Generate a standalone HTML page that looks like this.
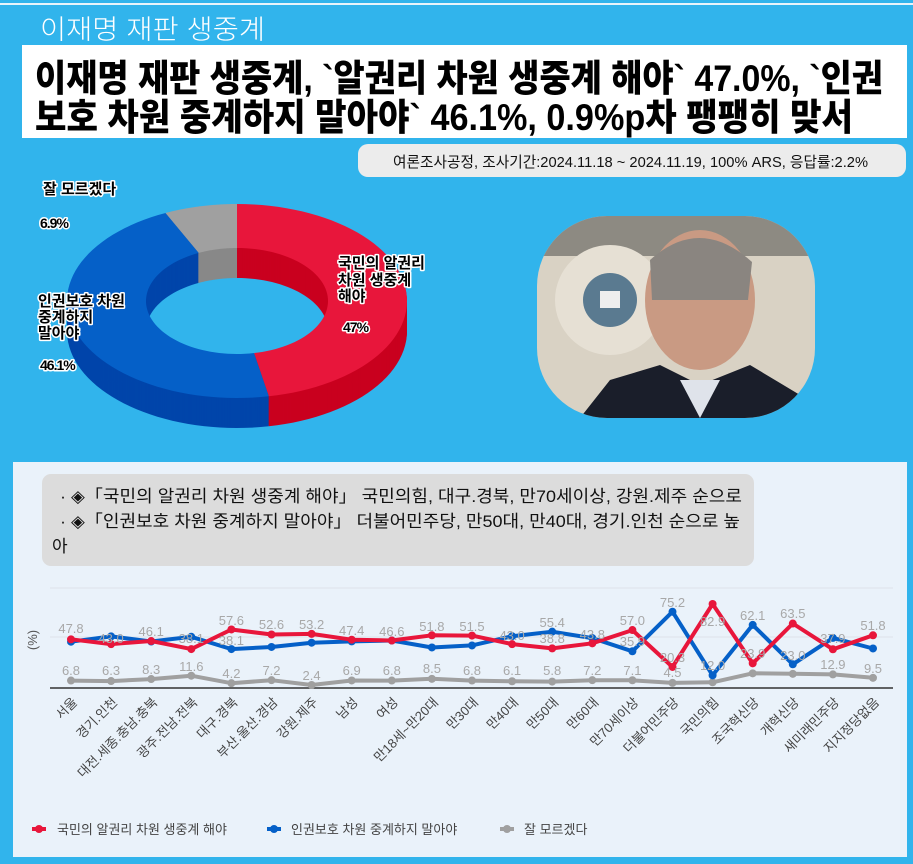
<!DOCTYPE html>
<html><head><meta charset="utf-8">
<style>
html,body{margin:0;padding:0;background:#31b4ec;}
svg{display:block;}
text{font-family:"Liberation Sans","Noto Sans CJK KR",sans-serif;}
</style></head>
<body>
<svg id="s" width="913" height="864" viewBox="0 0 913 864" xmlns="http://www.w3.org/2000/svg">
<rect x="0" y="0" width="913" height="864" fill="#31b4ec"/>
<rect x="0" y="3" width="913" height="2" fill="#e8f4fb"/>
<text x="40" y="39" font-size="27" fill="#fff" font-weight="300" textLength="225" lengthAdjust="spacingAndGlyphs">이재명 재판 생중계</text>
<rect x="22" y="45" width="885" height="93" fill="#fff"/>
<text x="35" y="91" font-size="37" font-weight="900" fill="#000" textLength="848" lengthAdjust="spacingAndGlyphs">이재명 재판 생중계, `알권리 차원 생중계 해야` 47.0%, `인권</text>
<text x="35" y="130" font-size="37" font-weight="900" fill="#000" textLength="818" lengthAdjust="spacingAndGlyphs">보호 차원 중계하지 말아야` 46.1%, 0.9%p차 팽팽히 맞서</text>
<rect x="358" y="144" width="548" height="33" rx="10" fill="#ececec"/>
<text x="393" y="167" font-size="15" fill="#111" textLength="475" lengthAdjust="spacingAndGlyphs">여론조사공정, 조사기간:2024.11.18 ~ 2024.11.19, 100% ARS, 응답률:2.2%</text>
<g id="donut"></g>
<g font-size="15" font-weight="bold" fill="#000" stroke="#fff" stroke-width="3" paint-order="stroke" stroke-linejoin="round">
<text x="43" y="194">잘 모르겠다</text>
<text x="40" y="228" font-size="14" letter-spacing="-1">6.9%</text>
<text x="338" y="268">국민의 알권리</text>
<text x="338" y="285">차원 생중계</text>
<text x="338" y="301">해야</text>
<text x="343" y="332" font-size="14" letter-spacing="-1">47%</text>
<text x="38" y="306">인권보호 차원</text>
<text x="38" y="322">중계하지</text>
<text x="38" y="338">말아야</text>
<text x="40" y="370" font-size="14" letter-spacing="-1">46.1%</text>
</g>
<defs><clipPath id="ph"><rect x="537" y="216" width="278" height="202" rx="70"/></clipPath></defs>
<g clip-path="url(#ph)">
<rect x="537" y="216" width="278" height="202" fill="#d9d2c4"/>
<rect x="537" y="216" width="278" height="40" fill="#8d8a82"/>
<circle cx="610" cy="300" r="55" fill="#e6e0d4"/>
<circle cx="610" cy="300" r="27" fill="#5a7a90"/>
<rect x="600" y="291" width="20" height="17" fill="#eee"/>
<ellipse cx="700" cy="300" rx="55" ry="70" fill="#c99a83"/>
<path d="M650 260 Q700 215 752 262 L748 300 L652 300 Z" fill="#8a8580"/>
<path d="M580 418 L610 380 L660 365 L700 385 L750 365 L800 395 L815 418 Z" fill="#1a1e2a"/>
<path d="M680 380 L700 418 L720 380 Z" fill="#dfe3ea"/>
</g>
<rect x="13" y="462" width="894" height="395" fill="#eaf2fa"/>
<rect x="42" y="474" width="712" height="92" rx="9" fill="#dcdcdc"/>
<g font-size="17" fill="#111">
<text x="60" y="502" textLength="682" lengthAdjust="spacingAndGlyphs">· ◈「국민의 알권리 차원 생중계 해야」 국민의힘, 대구.경북, 만70세이상, 강원.제주 순으로</text>
<text x="60" y="527" textLength="680" lengthAdjust="spacingAndGlyphs">· ◈「인권보호 차원 중계하지 말아야」 더불어민주당, 만50대, 만40대, 경기.인천 순으로 높</text>
<text x="52" y="552">아</text>
</g>
<line x1="50" y1="588" x2="893" y2="588" stroke="#dde3ea" stroke-width="1"/>
<line x1="50" y1="637" x2="893" y2="637" stroke="#dde3ea" stroke-width="1"/>
<line x1="50" y1="688" x2="893" y2="688" stroke="#333" stroke-width="1.5"/>
<text x="0" y="0" font-size="13" fill="#555" transform="translate(37,640) rotate(-90)" text-anchor="middle">(%)</text>
<g id="chart"></g>
<g font-size="13" fill="#444">
<line x1="32" y1="829" x2="46" y2="829" stroke="#e8163b" stroke-width="4"/><circle cx="39" cy="829" r="4" fill="#e8163b"/>
<text x="57" y="834">국민의 알권리 차원 생중계 해야</text>
<line x1="267" y1="829" x2="281" y2="829" stroke="#0560c8" stroke-width="4"/><circle cx="274" cy="829" r="4" fill="#0560c8"/>
<text x="291" y="834">인권보호 차원 중계하지 말아야</text>
<line x1="500" y1="829" x2="514" y2="829" stroke="#a0a0a0" stroke-width="4"/><circle cx="507" cy="829" r="4" fill="#a0a0a0"/>
<text x="524" y="834">잘 모르겠다</text>
</g>
</svg>
<script>
var NS="http://www.w3.org/2000/svg";
function el(p,t,a,txt){var e=document.createElementNS(NS,t);for(var k in a)e.setAttribute(k,a[k]);if(txt!=null)e.textContent=txt;p.appendChild(e);return e;}
// donut
var d=document.getElementById("donut");
var cx=237,cy=301,rx=170,ry=97,irx=91,iry=53,depth=30;
var slices=[[0,0.47,"#e8163b","#c9001f"],[0.47,0.931,"#0560c8","#0045aa"],[0.931,1,"#a0a0a0","#888"]];
function pt(a,r1,r2,oy){var t=a*2*Math.PI;return [cx+r1*Math.sin(t),cy+oy-r2*Math.cos(t)];}
function ring(a0,a1,oy){var s="";var n=60;for(var i=0;i<=n;i++){var a=a0+(a1-a0)*i/n;var p=pt(a,rx,ry,oy);s+=(i?"L":"M")+p[0].toFixed(2)+" "+p[1].toFixed(2);}
for(var i=n;i>=0;i--){var a=a0+(a1-a0)*i/n;var p=pt(a,irx,iry,oy);s+="L"+p[0].toFixed(2)+" "+p[1].toFixed(2);}return s+"Z";}
for(var o=depth;o>=1;o--){slices.forEach(function(s){el(d,"path",{d:ring(s[0],s[1],o),fill:s[3]});});}
slices.forEach(function(s){el(d,"path",{d:ring(s[0],s[1],0),fill:s[2]});});
// chart
var c=document.getElementById("chart");
var R=[47.8,43.0,46.1,38.1,57.6,52.6,53.2,47.4,46.6,51.8,51.5,43.0,38.8,43.8,57.0,20.3,82.9,23.9,63.5,37.9,51.8];
var B=[45.4,50.7,45.6,50.3,38.1,40.2,44.4,45.7,46.6,39.7,41.7,50.9,55.4,49.0,35.9,75.2,12.0,62.1,23.0,49.2,38.7];
var G=[6.8,6.3,8.3,11.6,4.2,7.2,2.4,6.9,6.8,8.5,6.8,6.1,5.8,7.2,7.1,4.5,5.1,14.0,13.5,12.9,9.5];
var N=["서울","경기.인천","대전.세종.충남.충북","광주.전남.전북","대구.경북","부산.울산.경남","강원.제주","남성","여성","만18세~만20대","만30대","만40대","만50대","만60대","만70세이상","더불어민주당","국민의힘","조국혁신당","개혁신당","새미래민주당","지지정당없음"];
function X(i){return 71+40.1*i;}function Y(v){return 687.4-1.006*v;}
[[G,"#a0a0a0"],[B,"#0560c8"],[R,"#e8163b"]].forEach(function(s){
 var p=s[0].map(function(v,i){return X(i).toFixed(1)+","+Y(v).toFixed(1);}).join(" ");
 el(c,"polyline",{points:p,fill:"none",stroke:s[1],"stroke-width":4,"stroke-linejoin":"round"});
 s[0].forEach(function(v,i){el(c,"circle",{cx:X(i),cy:Y(v),r:4,fill:s[1]});});
});
var L=[[0,"47.8",628],[0,"6.8",670],[1,"43.0",638],[1,"6.3",670],[2,"46.1",631],[2,"8.3",669],[3,"38.1",638],[3,"11.6",666],
[4,"57.6",620],[4,"38.1",640],[4,"4.2",673],[5,"52.6",624],[5,"7.2",670],[6,"53.2",624],[6,"2.4",675],[7,"47.4",630],[7,"6.9",670],
[8,"46.6",631],[8,"6.8",670],[9,"51.8",626],[9,"8.5",668],[10,"51.5",626],[10,"6.8",670],[11,"43.0",635],[11,"6.1",670],
[12,"55.4",622],[12,"38.8",638],[12,"5.8",670],[13,"43.8",634],[13,"7.2",670],[14,"57.0",620],[14,"35.9",641],[14,"7.1",670],
[15,"75.2",602],[15,"20.3",657],[15,"4.5",672],[16,"82.9",621],[16,"12.0",665],[17,"62.1",615],[17,"23.9",653],[18,"63.5",613],[18,"23.0",655],
[19,"37.9",638],[19,"12.9",664],[20,"51.8",625],[20,"9.5",668]];
L.forEach(function(l){el(c,"text",{x:X(l[0]),y:l[2]+5,"font-size":13,fill:"#a8a8a8","text-anchor":"middle"},l[1]);});
N.forEach(function(n,i){el(c,"text",{x:0,y:0,"font-size":13,fill:"#444","text-anchor":"end",transform:"translate("+(X(i)+7)+",703) rotate(-45)"},n);});
</script>
</body></html>
